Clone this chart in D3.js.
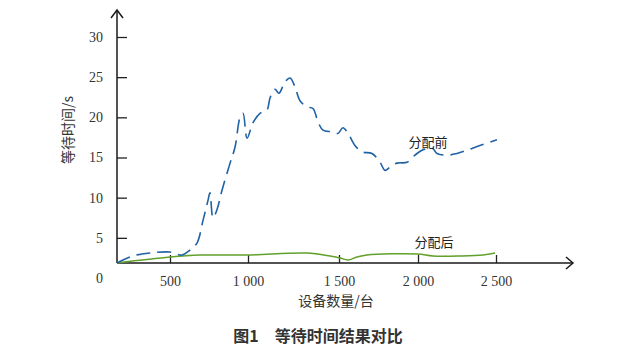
<!DOCTYPE html>
<html>
<head>
<meta charset="utf-8">
<script src="https://cdn.jsdelivr.net/npm/d3@7"></script>
<style>
  body { margin: 0; background: #fff; }
  svg { display: block; }
</style>
</head>
<body>
<svg></svg>
<script>
// Data
var xTicks = [500, 1000, 1500, 2000, 2500];
var xTickLabels = ['500', '1 000', '1 500', '2 000', '2 500'];
var yTicks = [0, 5, 10, 15, 20, 25, 30];
var yTickLabels = ['0', '5', '10', '15', '20', '25', '30'];

// 分配前 (before allocation)
var beforeX = [0, 151, 311, 500, 577, 628, 673, 712, 744, 756, 776, 801, 833, 885, 917, 949, 968, 994,
  1027, 1066, 1104, 1121, 1148, 1170, 1203, 1231, 1258, 1285, 1324, 1357, 1385, 1412, 1461, 1494,
  1525, 1557, 1601, 1646, 1709, 1760, 1791, 1823, 1867, 1930, 1981, 2026, 2090, 2122, 2186, 2250,
  2314, 2397, 2506];
var beforeY = [1.87, 2.74, 3.11, 3.23, 2.86, 3.48, 4.35, 7.2, 9.7, 10.6, 7.5, 8.5, 10.9, 14.3, 16.3, 20.0, 20.5, 17.4,
  19.3, 20.5, 20.9, 22.4, 23.5, 23.0, 24.4, 24.9, 23.8, 22.1, 21.3, 21.1, 19.4, 18.4, 18.2, 18.0,
  18.7, 18.0, 16.5, 15.7, 15.5, 14.4, 13.4, 13.8, 14.3, 14.4, 15.3, 15.9, 16.2, 15.5, 15.3, 15.5,
  15.9, 16.5, 17.2];

// 分配后 (after allocation)
var afterX = [0, 500, 692, 994, 1324, 1450, 1506, 1557, 1614, 1677, 1994, 2096, 2269, 2417, 2494];
var afterY = [1.87, 2.61, 2.86, 2.86, 3.11, 2.74, 2.49, 2.24, 2.61, 2.86, 2.99, 2.74, 2.74, 2.86, 3.11];

var width = 624;
var height = 351;
var axisY = 263;     // x axis baseline
var axisX = 117;     // y axis position
var serif = '"Liberation Serif", "DejaVu Serif", serif';
var cjk = '"Noto Sans CJK SC", sans-serif';

var svg = d3.select('svg')
  .attr('width', width)
  .attr('height', height);

// the printed axis spacing is uneven, so use a piecewise scale
var x = d3.scaleLinear()
  .domain([0, 500, 1000, 1500, 2000, 2500])
  .range([117, 170, 248, 339, 418, 496]);

var y = d3.scaleLinear()
  .domain([0, 30])
  .range([278, 37]);

// y axis ticks + labels
var yAxis = d3.axisLeft(y)
  .tickValues(yTicks)
  .tickFormat(function (d, i) { return yTickLabels[i]; })
  .tickSizeInner(-10)
  .tickSizeOuter(0)
  .tickPadding(14);

var gy = svg.append('g')
  .attr('transform', 'translate(' + axisX + ',0)')
  .call(yAxis);
gy.select('.domain').remove();
gy.selectAll('.tick line').attr('stroke', '#222').attr('stroke-width', 1.3)
  .attr('display', function (d) { return d === 0 ? 'none' : null; });
gy.selectAll('.tick text')
  .attr('fill', '#333')
  .style('font-family', serif)
  .style('font-size', '14px');

// x axis ticks + labels
var xAxis = d3.axisBottom(x)
  .tickValues(xTicks)
  .tickFormat(function (d, i) { return xTickLabels[i]; })
  .tickSizeInner(-8)
  .tickSizeOuter(0)
  .tickPadding(13);

var gx = svg.append('g')
  .attr('transform', 'translate(0,' + axisY + ')')
  .call(xAxis);
gx.select('.domain').remove();
gx.selectAll('.tick line').attr('stroke', '#222').attr('stroke-width', 1.3);
gx.selectAll('.tick text')
  .attr('fill', '#333')
  .style('font-family', serif)
  .style('font-size', '14px');

// axis lines with open arrows
var axes = svg.append('g')
  .attr('fill', 'none')
  .attr('stroke', '#1a1a1a')
  .attr('stroke-width', 1.5);
axes.append('path').attr('d', 'M' + axisX + ',' + axisY + 'V10');
axes.append('path').attr('d', 'M' + (axisX - 6) + ',18L' + axisX + ',10L' + (axisX + 6) + ',18');
axes.append('path').attr('d', 'M' + axisX + ',' + axisY + 'H573');
axes.append('path').attr('d', 'M566,' + (axisY - 6) + 'L573,' + axisY + 'L566,' + (axisY + 6));

// lines
var line = d3.line()
  .x(function (d) { return x(d[0]); })
  .y(function (d) { return y(d[1]); })
  .curve(d3.curveCatmullRom.alpha(0.5));

var before = d3.zip(beforeX, beforeY);
var after = d3.zip(afterX, afterY);

svg.append('path')
  .datum(after)
  .attr('d', line)
  .attr('fill', 'none')
  .attr('stroke', '#62a02c')
  .attr('stroke-width', 1.5);

svg.append('path')
  .datum(before)
  .attr('d', line)
  .attr('fill', 'none')
  .attr('stroke', '#1f62a6')
  .attr('stroke-width', 1.6)
  .attr('stroke-dasharray', '14,7');

// series labels
svg.append('text')
  .attr('x', 428).attr('y', 147)
  .attr('text-anchor', 'middle')
  .attr('fill', '#222')
  .style('font-family', cjk)
  .style('font-size', '13px')
  .text('分配前');

svg.append('text')
  .attr('x', 434).attr('y', 247)
  .attr('text-anchor', 'middle')
  .attr('fill', '#222')
  .style('font-family', cjk)
  .style('font-size', '13px')
  .text('分配后');

// axis titles
svg.append('text')
  .attr('transform', 'translate(73,130) rotate(-90)')
  .attr('text-anchor', 'middle')
  .attr('fill', '#333')
  .style('font-family', cjk)
  .style('font-size', '14px')
  .text('等待时间/s');

svg.append('text')
  .attr('x', 336).attr('y', 306)
  .attr('text-anchor', 'middle')
  .attr('fill', '#333')
  .style('font-family', cjk)
  .style('font-size', '14px')
  .text('设备数量/台');

// caption
svg.append('text')
  .attr('x', 318).attr('y', 342)
  .attr('text-anchor', 'middle')
  .attr('fill', '#333')
  .style('font-family', cjk)
  .style('font-size', '16px')
  .style('font-weight', 'bold')
  .attr('xml:space', 'preserve')
  .text('图1　等待时间结果对比');
</script>
</body>
</html>
